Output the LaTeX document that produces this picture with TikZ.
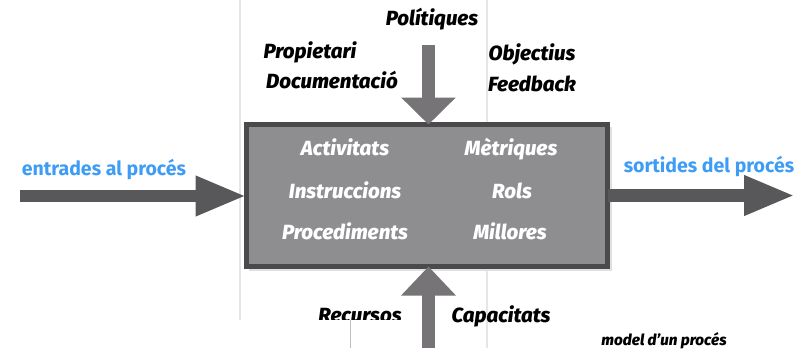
\documentclass[tikz,border=0pt]{standalone}
\usepackage{fontspec}
\setmainfont{Fira Sans}[BoldItalicFont={Fira Sans ExtraBold Italic}]
\usetikzlibrary{arrows.meta,calc}
\definecolor{boxfill}{HTML}{8E8E91}
\definecolor{boxline}{HTML}{4B494B}
\definecolor{vertarrow}{HTML}{767476}
\definecolor{horarrow}{HTML}{58585A}
\definecolor{bluetxt}{HTML}{3D9CF5}
\definecolor{guide}{HTML}{E6E6E6}
\tikzset{
  lbl/.style={font=\fontsize{20.5}{24}\selectfont\bfseries\itshape, text=black, inner sep=0pt, anchor=base},
  inlbl/.style={lbl, text=white},
  bluelbl/.style={font=\fontsize{19.5}{22}\selectfont\bfseries, text=bluetxt, inner sep=0pt, anchor=base},
  vbig/.style={draw=vertarrow, line width=13pt, -{Triangle[length=27pt,width=53pt]}},
  hbig/.style={draw=horarrow, line width=12.5pt, -{Triangle[length=51pt,width=37pt]}},
  guideline/.style={draw=guide, line width=2.5pt}
}
\begin{document}
\begin{tikzpicture}[x=1pt,y=-1pt]
\useasboundingbox[fill=white] (0,0) rectangle (811,348);
% guide lines
\coordinate (g1a) at (240,0); \coordinate (g1b) at (240,320);
\coordinate (g2a) at (487,0); \coordinate (g2b) at (487,348);
\draw[guideline] (g1a) -- (g1b);
\draw[guideline, line width=2pt] (g2a) -- (g2b);
% process box (shadow + box)
\fill[black!12] (249,127) rectangle (612,271);
\node[draw=boxline, fill=boxfill, line width=5pt, minimum width=361pt, minimum height=142pt, inner sep=0pt] (proc) at (427,195.5) {};
% arrows
\coordinate (topstart) at (428.5,45);
\coordinate (botstart) at (428.5,348);
\coordinate (lstart) at (20,196);
\coordinate (rend) at (795,195.5);
\draw[vbig, shorten >=-2.5pt] (topstart) -- (proc.north -| topstart);
\draw[hbig, shorten >=-2.5pt] (lstart) -- (proc.west |- lstart);
\draw[hbig, shorten <=-2.5pt] (proc.east |- rend) -- (rend);
% top labels
\node[lbl] (pol) at (432,25) {Polítiques};
\node[lbl] (prop) at (310,58) {Propietari};
\node[lbl] (doc) at (332,88) {Documentació};
\node[lbl] (obj) at (532,60) {Objectius};
\node[lbl] (fee) at (532,91) {Feedback};
% inside box
\node[inlbl] (act) at (345,155) {Activitats};
\node[inlbl] (met) at (511,155) {Mètriques};
\node[inlbl] (ins) at (345,198) {Instruccions};
\node[inlbl] (rol) at (512,198) {Rols};
\node[inlbl] (pro) at (345,239) {Procediments};
\node[inlbl] (mil) at (510,239) {Millores};
% bottom labels
\node[lbl] (rec) at (360,322) {Recursos};
\node[lbl] (cap) at (501,322) {Capacitats};
\fill[white] (0,320) rectangle (405,348);
\coordinate (g3a) at (350,320); \coordinate (g3b) at (350,348);
\draw[draw=black!25, line width=1pt] (g3a) -- (g3b);
\draw[vbig, -{Triangle[length=29pt,width=53pt]}, shorten >=-2.5pt] (botstart) -- (proc.south -| botstart);
% side labels
\node[bluelbl] (ent) at (104,175) {entrades al procés};
\node[bluelbl] (sor) at (709,172) {sortides del procés};
% caption
\node[lbl, font=\fontsize{15.3}{18}\selectfont\bfseries\itshape] (cap2) at (664,345) {model d’un procés};
\end{tikzpicture}
\end{document}
